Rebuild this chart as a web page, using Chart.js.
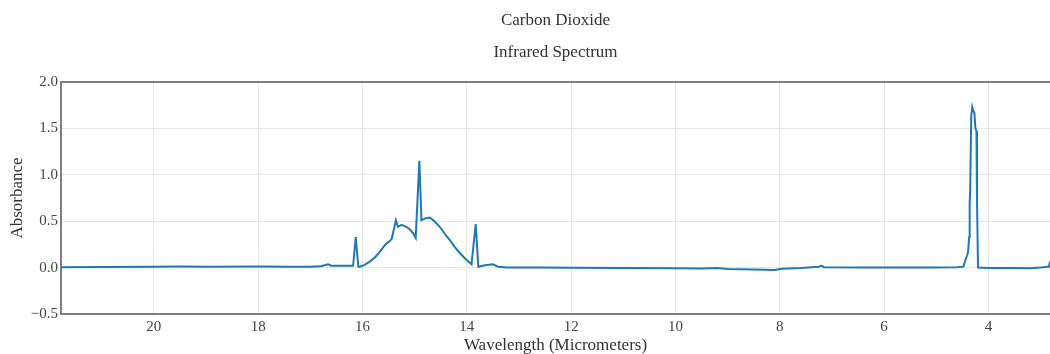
<!DOCTYPE html>
<html>
<head>
<meta charset="utf-8">
<title>Carbon Dioxide - Infrared Spectrum</title>
<script src="https://cdn.jsdelivr.net/npm/chart.js@4.4.1/dist/chart.umd.min.js"></script>
<style>
  html, body { margin: 0; padding: 0; background: #fff; }
  #wrap { width: 1050px; height: 354px; position: relative; }
</style>
</head>
<body>
<div id="wrap"><canvas id="spectrum"></canvas></div>
<script>
// wavelength in micrometers, from long to short
const wavelengths = [
  21.78, 21.0, 20.0, 19.5, 19.0, 18.0, 17.5, 17.0, 16.8, 16.66, 16.6, 16.45, 16.18,
  16.13, 16.08, 16.05, 15.96, 15.86, 15.76, 15.67, 15.6, 15.54, 15.47, 15.44, 15.36,
  15.32, 15.25, 15.16, 15.09, 15.03, 14.98, 14.91, 14.87, 14.8, 14.71, 14.62, 14.52,
  14.43, 14.33, 14.23, 14.13, 14.02, 13.91, 13.83, 13.78, 13.65, 13.5, 13.4, 13.23,
  12.6, 12.0, 11.0, 10.0, 9.5, 9.2, 9.0, 8.5, 8.1, 7.96, 7.6, 7.25, 7.2, 7.15, 6.5,
  5.9, 5.0, 4.6, 4.48, 4.43, 4.41, 4.39, 4.37, 4.36, 4.35, 4.33, 4.31, 4.29, 4.27,
  4.25, 4.23, 4.22, 4.2, 4.0, 3.5, 3.2, 3.0, 2.86, 2.84, 2.82
];
const absorbance = [
  0.005, 0.006, 0.008, 0.012, 0.01, 0.012, 0.01, 0.008, 0.015, 0.035, 0.02, 0.02, 0.02,
  0.33, 0.01, 0.01, 0.03, 0.065, 0.11, 0.17, 0.22, 0.26, 0.29, 0.31, 0.51,
  0.44, 0.46, 0.44, 0.41, 0.37, 0.32, 1.15, 0.51, 0.53, 0.54, 0.5, 0.44,
  0.37, 0.3, 0.22, 0.155, 0.09, 0.036, 0.47, 0.01, 0.025, 0.035, 0.01, 0.0,
  0.0, -0.002, -0.004, -0.008, -0.01, -0.005, -0.015, -0.02, -0.025, -0.012, -0.005, 0.01, 0.02, 0.005, 0.0,
  0.0, 0.002, 0.005, 0.01, 0.1, 0.13, 0.17, 0.33, 0.69, 0.84, 1.63, 1.73, 1.69, 1.67,
  1.5, 1.47, 0.76, 0.0, -0.005, -0.005, -0.008, 0.0, 0.01, 0.01, 0.065
];
const xTickValues = [20, 18, 16, 14, 12, 10, 8, 6, 4];
const yTickValues = [-0.5, 0, 0.5, 1, 1.5, 2];

const points = wavelengths.map((w, i) => ({ x: w, y: absorbance[i] }));

const serif = "'Liberation Serif', 'DejaVu Serif', serif";
const axisGray = '#7f7f7f';
const gridGray = '#e6e6e6';

new Chart(document.getElementById('spectrum'), {
  type: 'line',
  data: {
    datasets: [{
      data: points,
      borderColor: '#1f77b4',
      borderWidth: 2,
      pointRadius: 0,
      tension: 0,
      fill: false
    }]
  },
  options: {
    responsive: true,
    maintainAspectRatio: false,
    animation: false,
    layout: { padding: 0 },
    plugins: {
      legend: { display: false },
      tooltip: { enabled: false },
      title: {
        display: true,
        text: 'Carbon Dioxide',
        fullSize: false,
        color: '#333',
        font: { family: serif, size: 17, weight: 'normal', lineHeight: 1.2 },
        padding: { top: 10, bottom: 8 }
      },
      subtitle: {
        display: true,
        text: 'Infrared Spectrum',
        fullSize: false,
        color: '#333',
        font: { family: serif, size: 17, weight: 'normal', lineHeight: 1.2 },
        padding: { top: 4, bottom: 19.2 }
      }
    },
    scales: {
      x: {
        type: 'linear',
        reverse: true,
        min: 2.82,
        max: 21.78,
        afterBuildTicks: (scale) => {
          scale.ticks = xTickValues.map(v => ({ value: v }));
        },
        afterFit: (scale) => { scale.height = 40; },
        ticks: {
          color: '#444',
          font: { family: serif, size: 15 },
          padding: 4,
          maxRotation: 0,
          callback: (v) => String(v)
        },
        grid: { color: gridGray, lineWidth: 1, drawTicks: false },
        border: { display: true, color: axisGray, width: 2 },
        title: {
          display: true,
          text: 'Wavelength (Micrometers)',
          color: '#333',
          font: { family: serif, size: 17, lineHeight: 1 },
          padding: { top: 0, bottom: 0 }
        }
      },
      y: {
        type: 'linear',
        min: -0.5,
        max: 2.0,
        afterBuildTicks: (scale) => {
          scale.ticks = yTickValues.map(v => ({ value: v }));
        },
        afterFit: (scale) => { scale.width = 61; },
        ticks: {
          color: '#444',
          font: { family: serif, size: 15 },
          padding: 3,
          callback: (v) => v.toFixed(1).replace('-', '\u2212')
        },
        grid: {
          // top line of the frame doubles as the 2.0 grid line
          color: (ctx) => (ctx.tick && ctx.tick.value === 2 ? axisGray : gridGray),
          lineWidth: (ctx) => (ctx.tick && ctx.tick.value === 2 ? 2 : 1),
          drawTicks: false
        },
        border: { display: true, color: axisGray, width: 2 },
        title: {
          display: true,
          text: 'Absorbance',
          color: '#333',
          font: { family: serif, size: 17, lineHeight: 1 },
          padding: { top: 9, bottom: 0 }
        }
      }
    }
  }
});
</script>
</body>
</html>
